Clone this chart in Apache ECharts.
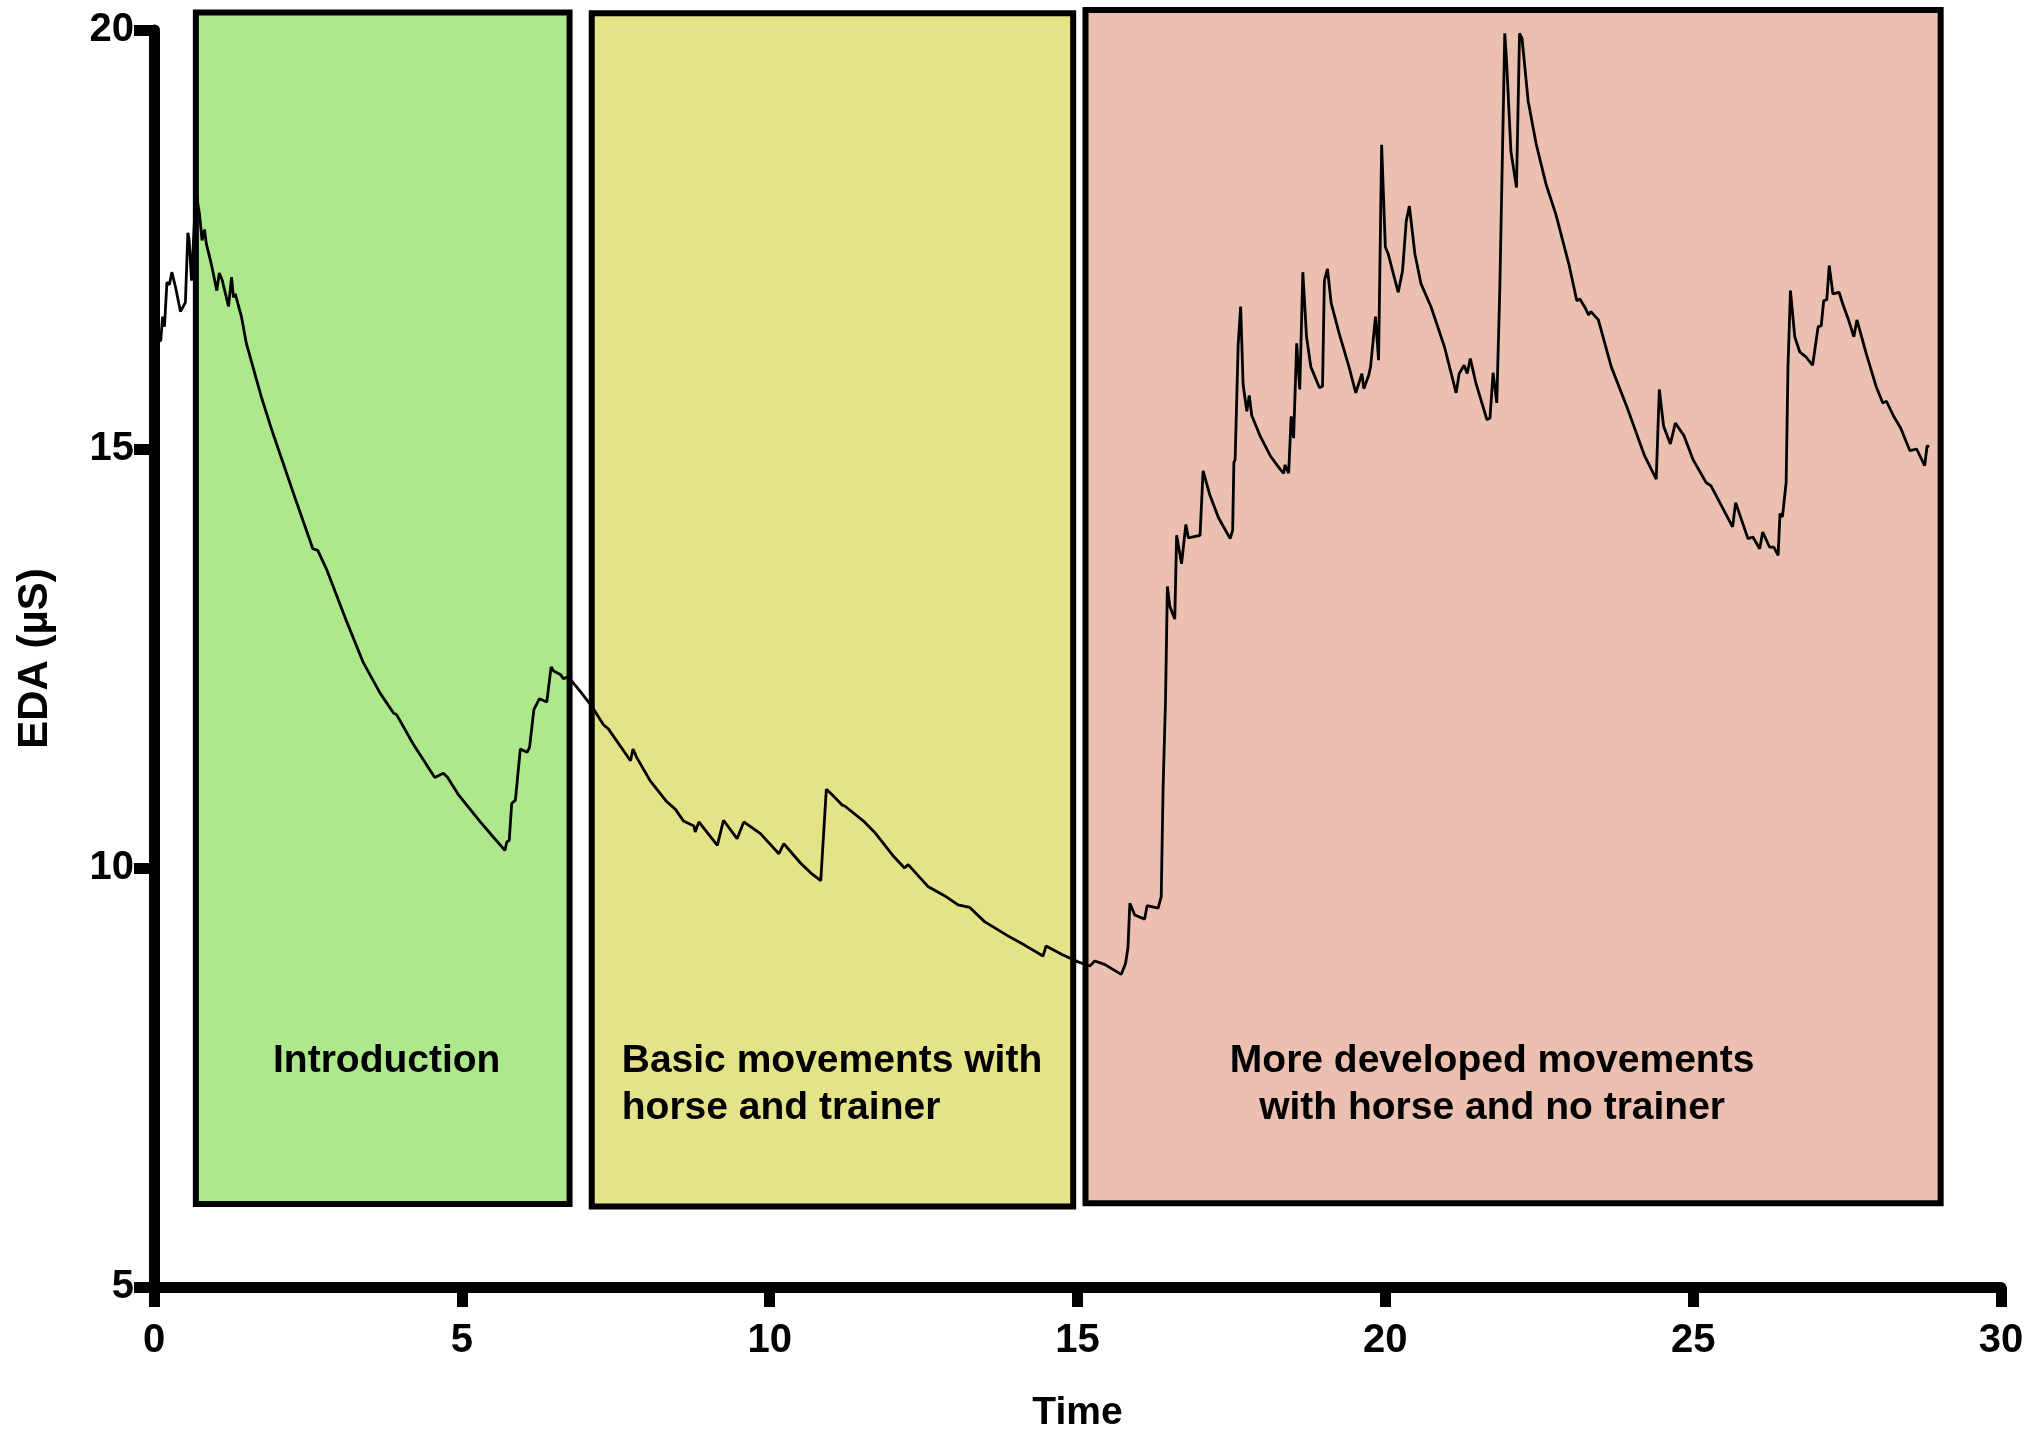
<!DOCTYPE html>
<html>
<head>
<meta charset="utf-8">
<script src="https://cdn.jsdelivr.net/npm/echarts@6/dist/echarts.min.js"></script>
<style>
html,body{margin:0;padding:0;background:#ffffff;}
#chart{width:2027px;height:1438px;}
</style>
</head>
<body>
<div id="chart"></div>
<script>
// ---------- data ----------
const timeMin = [
0.02,0.11,0.14,0.17,0.21,0.25,0.29,0.35,0.43,0.51,0.55,0.57,0.61,0.68,0.74,0.78,0.82,0.85,0.93,1.02,
1.06,1.11,1.21,1.26,1.29,1.32,1.42,1.50,1.74,1.93,2.28,2.58,2.66,2.80,3.13,3.40,3.67,3.89,3.94,4.21,
4.56,4.70,4.77,4.94,5.30,5.51,5.70,5.73,5.77,5.81,5.87,5.95,6.06,6.10,6.17,6.26,6.38,6.45,6.49,6.60,
6.65,6.73,6.92,7.11,7.30,7.38,7.40,7.74,7.78,7.84,8.06,8.33,8.47,8.60,8.77,8.79,8.85,9.15,9.17,9.25,
9.47,9.50,9.58,9.85,10.15,10.23,10.30,10.50,10.67,10.83,10.92,11.02,11.18,11.22,11.54,11.70,12.00,12.19,12.25,12.57,
12.84,13.06,13.25,13.49,13.87,13.89,14.14,14.44,14.49,14.74,15.01,15.20,15.28,15.44,15.71,15.78,15.82,15.85,15.93,16.09,
16.13,16.31,16.36,16.39,16.43,16.46,16.50,16.58,16.61,16.69,16.76,16.80,16.99,17.04,17.15,17.29,17.48,17.52,17.54,17.56,
17.61,17.65,17.69,17.75,17.79,17.83,17.97,18.13,18.29,18.35,18.37,18.43,18.47,18.51,18.56,18.61,18.66,18.72,18.79,18.93,
18.98,19.01,19.06,19.12,19.25,19.41,19.52,19.62,19.65,19.73,19.76,19.84,19.89,19.94,20.00,20.05,20.13,20.21,20.28,20.34,
20.39,20.48,20.58,20.74,20.96,21.15,21.20,21.28,21.33,21.38,21.47,21.65,21.70,21.75,21.81,21.86,21.94,21.97,22.04,22.13,
22.18,22.22,22.32,22.45,22.61,22.77,22.98,23.11,23.16,23.25,23.30,23.34,23.46,23.67,23.94,24.21,24.40,24.45,24.52,24.63,
24.71,24.85,25.00,25.21,25.29,25.64,25.69,25.89,25.97,26.08,26.13,26.24,26.31,26.38,26.41,26.45,26.51,26.54,26.58,26.65,
26.73,26.83,26.94,27.03,27.08,27.12,27.17,27.21,27.27,27.37,27.43,27.51,27.61,27.66,27.81,27.97,28.08,28.14,28.25,28.37,
28.52,28.63,28.76,28.80,28.83
];
const edaUs = [
16.25,16.30,16.58,16.46,16.99,16.96,17.11,16.93,16.64,16.75,17.58,17.50,17.01,18.08,17.80,17.49,17.62,17.45,17.21,16.89,
17.10,17.01,16.70,17.05,16.81,16.85,16.58,16.26,15.63,15.19,14.44,13.81,13.79,13.57,12.94,12.45,12.09,11.85,11.83,11.48,
11.08,11.13,11.08,10.88,10.55,10.37,10.21,10.31,10.33,10.77,10.81,11.42,11.38,11.44,11.89,12.02,11.98,12.40,12.35,12.31,
12.26,12.28,12.11,11.93,11.71,11.66,11.68,11.28,11.42,11.32,11.04,10.79,10.70,10.56,10.50,10.43,10.55,10.27,10.29,10.57,
10.35,10.36,10.55,10.41,10.17,10.29,10.23,10.06,9.94,9.85,10.94,10.87,10.75,10.74,10.55,10.43,10.15,10.00,10.04,9.78,
9.67,9.56,9.53,9.36,9.19,9.21,9.08,8.95,9.07,8.97,8.88,8.83,8.89,8.85,8.73,8.86,9.05,9.58,9.44,9.39,
9.55,9.52,9.66,10.95,12.01,13.36,13.12,12.97,13.97,13.63,14.10,13.94,13.97,14.74,14.45,14.18,13.93,14.03,14.84,14.87,
16.25,16.70,15.77,15.45,15.64,15.40,15.15,14.92,14.76,14.71,14.81,14.71,15.39,15.13,16.26,15.71,17.11,16.34,15.98,15.73,
15.75,17.01,17.15,16.74,16.38,15.98,15.67,15.90,15.72,15.88,15.98,16.58,16.06,18.63,17.41,17.32,17.09,16.87,17.13,17.72,
17.90,17.33,16.97,16.70,16.22,15.67,15.90,16.00,15.90,16.08,15.79,15.35,15.37,15.91,15.55,16.93,19.96,19.62,18.55,18.12,
19.96,19.90,19.15,18.64,18.16,17.80,17.21,16.77,16.79,16.68,16.60,16.64,16.54,15.98,15.47,14.92,14.64,15.71,15.27,15.06,
15.31,15.16,14.87,14.60,14.56,14.07,14.36,13.93,13.95,13.81,14.01,13.83,13.83,13.73,14.23,14.19,14.60,15.98,16.89,16.34,
16.16,16.10,16.00,16.46,16.47,16.77,16.78,17.19,16.85,16.87,16.73,16.57,16.34,16.54,16.14,15.75,15.55,15.57,15.40,15.25,
14.98,15.00,14.80,15.04,15.02
];
const phaseNames = ['Introduction', 'Basic movements with\nhorse and trainer', 'More developed movements\nwith horse and no trainer'];
const phaseStart = [0.68, 7.11, 15.13];
const phaseEnd   = [6.75, 14.93, 29.02];
const phaseLow   = [5.99, 5.96, 6.00];
const phaseHigh  = [20.21, 20.20, 20.24];
const xTickValues = [0, 5, 10, 15, 20, 25, 30];
const yTickValues = [5, 10, 15, 20];

// ---------- styling / layout (not data) ----------
const FONT = "'Liberation Sans', Arial, Helvetica, sans-serif";
const phaseFill = ['#ade88c', '#e4e387', '#ebc0b0'];
const labelLayout = [
  {align: 'center', anchor: 'center', dx: 4},
  {align: 'left', anchor: 'left', dx: 30},
  {align: 'center', anchor: 'center', dx: -21}
];
const labelTopValue = 7.97;

const lineData = timeMin.map((t, i) => [t, edaUs[i]]);
const phaseData = phaseStart.map((s, i) => [s, phaseEnd[i], phaseLow[i], phaseHigh[i], i]);

const chart = echarts.init(document.getElementById('chart'), null, {renderer: 'canvas'});

const option = {
  animation: false,
  backgroundColor: '#ffffff',
  grid: {left: 154, right: 26, top: 30, bottom: 126, containLabel: false},
  xAxis: {
    type: 'value',
    min: xTickValues[0],
    max: xTickValues[xTickValues.length - 1],
    interval: xTickValues[1] - xTickValues[0],
    name: 'Time',
    nameLocation: 'middle',
    nameGap: 107,
    nameTextStyle: {fontFamily: FONT, fontWeight: 'bold', fontSize: 39, color: '#000'},
    axisLine: {show: true, onZero: false, lineStyle: {color: '#000', width: 11}},
    axisTick: {show: true, inside: false, length: 20, lineStyle: {color: '#000', width: 11}},
    axisLabel: {show: true, margin: 34, fontFamily: FONT, fontWeight: 'bold', fontSize: 40, color: '#000'},
    splitLine: {show: false}
  },
  yAxis: {
    type: 'value',
    min: yTickValues[0],
    max: yTickValues[yTickValues.length - 1],
    interval: yTickValues[1] - yTickValues[0],
    name: 'EDA (µS)',
    nameLocation: 'middle',
    nameRotate: 90,
    nameGap: 98,
    nameTextStyle: {fontFamily: FONT, fontWeight: 'bold', fontSize: 42, color: '#000'},
    axisLine: {show: true, onZero: false, lineStyle: {color: '#000', width: 11}},
    axisTick: {show: true, inside: false, length: 20, lineStyle: {color: '#000', width: 11}},
    axisLabel: {show: true, margin: 20, fontFamily: FONT, fontWeight: 'bold', fontSize: 40, color: '#000'},
    splitLine: {show: false}
  },
  series: [
    {
      type: 'custom',
      clip: false,
      z: 1,
      silent: true,
      data: phaseData,
      renderItem: function (params, api) {
        const i = api.value(4);
        const p0 = api.coord([api.value(0), api.value(3)]);
        const p1 = api.coord([api.value(1), api.value(2)]);
        const lay = labelLayout[i];
        const tx = (lay.anchor === 'left' ? p0[0] : (p0[0] + p1[0]) / 2) + lay.dx;
        const ty = api.coord([api.value(0), labelTopValue])[1];
        return {
          type: 'group',
          children: [
            {
              type: 'rect',
              shape: {x: p0[0], y: p0[1], width: p1[0] - p0[0], height: p1[1] - p0[1]},
              style: {fill: phaseFill[i], stroke: '#000', lineWidth: 6}
            },
            {
              type: 'text',
              x: tx,
              y: ty,
              style: {
                text: phaseNames[i],
                fill: '#000',
                font: 'bold 39px ' + FONT,
                align: lay.align,
                verticalAlign: 'top',
                lineHeight: 47
              }
            }
          ]
        };
      }
    },
    {
      type: 'line',
      z: 5,
      data: lineData,
      showSymbol: false,
      symbol: 'none',
      smooth: false,
      clip: false,
      lineStyle: {color: '#000', width: 2.8},
      silent: true
    }
  ]
};
chart.setOption(option);
</script>
</body>
</html>
